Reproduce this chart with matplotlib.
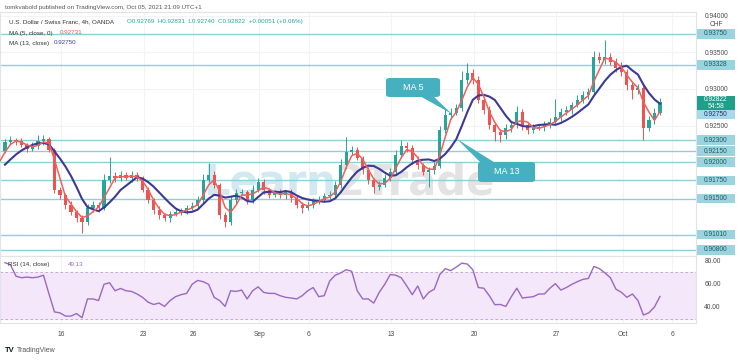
import numpy as np
import pandas as pd
import matplotlib
matplotlib.use("Agg")
import matplotlib.pyplot as plt
from matplotlib.patches import Rectangle, FancyBboxPatch, Polygon

plt.rcParams['font.family'] = ['Liberation Sans', 'DejaVu Sans']

W, H = 740, 361

pre_closes = [0.9180, 0.9182, 0.9185, 0.9188, 0.9198, 0.9215]
closes = [
    0.92275, 0.92302, 0.92289, 0.92234, 0.92179, 0.92220, 0.92289, 0.92316, 0.92166, 0.91619,
    0.91551, 0.91414, 0.91319, 0.91237, 0.91182, 0.91374, 0.91414, 0.91374, 0.91756, 0.91811,
    0.91783, 0.91824, 0.91783, 0.91824, 0.91783, 0.91619, 0.91483, 0.91346, 0.91278, 0.91237,
    0.91292, 0.91319, 0.91346, 0.91374, 0.91401, 0.91483, 0.91756, 0.91824, 0.91688, 0.91278,
    0.91182, 0.91483, 0.91578, 0.91592, 0.91483, 0.91619, 0.91729, 0.91619, 0.91551, 0.91578,
    0.91551, 0.91592, 0.91510, 0.91414, 0.91374, 0.91414, 0.91483, 0.91483, 0.91537, 0.91551,
    0.91688, 0.91961, 0.92138, 0.92166, 0.92056, 0.91892, 0.91756, 0.91660, 0.91688, 0.91783,
    0.91865, 0.92097, 0.92220, 0.92193, 0.92029, 0.91961, 0.91865, 0.91892, 0.91947, 0.92439,
    0.92644, 0.92671, 0.92739, 0.93122, 0.93217, 0.93122, 0.92849, 0.92712, 0.92507, 0.92412,
    0.92371, 0.92466, 0.92507, 0.92685, 0.92507, 0.92439, 0.92466, 0.92480, 0.92507, 0.92548,
    0.92616, 0.92685, 0.92712, 0.92780, 0.92849, 0.92917, 0.92958, 0.93436, 0.93395, 0.93436,
    0.93368, 0.93286, 0.93231, 0.93053, 0.92985, 0.93012, 0.92466, 0.92575, 0.92671, 0.92822,
]
hi_ext_pips = [
    4, 5, 3, 4, 3, 5, 8, 6, 3, 3,
    4, 3, 5, 3, 4, 6, 5, 4, 8, 26,
    5, 6, 4, 5, 4, 3, 4, 3, 5, 3,
    4, 5, 3, 4, 6, 5, 8, 16, 5, 3,
    4, 6, 5, 4, 3, 7, 5, 4, 3, 4,
    5, 3, 4, 3, 4, 5, 3, 6, 4, 5,
    6, 8, 20, 5, 4, 3, 4, 3, 5, 6,
    5, 7, 8, 5, 4, 6, 3, 4, 5, 6,
    8, 7, 6, 12, 14, 5, 6, 4, 5, 3,
    4, 5, 6, 8, 4, 3, 5, 4, 6, 5,
    25, 5, 6, 4, 7, 5, 6, 8, 7, 23,
    6, 5, 8, 4, 5, 6, 4, 5, 7, 6,
]
lo_ext_pips = [
    3, 4, 5, 3, 4, 3, 4, 5, 3, 4,
    5, 6, 4, 5, 15, 4, 5, 6, 3, 4,
    5, 4, 3, 5, 4, 3, 4, 5, 6, 4,
    5, 3, 4, 5, 3, 4, 5, 3, 4, 6,
    7, 4, 5, 3, 6, 4, 3, 5, 4, 3,
    4, 6, 5, 4, 7, 3, 4, 5, 3, 4,
    3, 4, 5, 4, 3, 5, 6, 8, 4, 3,
    4, 3, 4, 5, 6, 5, 4, 20, 5, 3,
    4, 5, 3, 4, 5, 6, 4, 5, 6, 13,
    10, 6, 5, 4, 7, 5, 4, 3, 5, 4,
    3, 5, 4, 6, 3, 4, 5, 3, 4, 5,
    4, 5, 6, 7, 12, 5, 16, 4, 5, 3,
]
rsi_vals = [
    78.5, 76.7, 66.8, 65.4, 66.0, 65.4, 66.0, 67.6, 51.3, 35.7,
    34.9, 32.1, 32.1, 34.3, 30.7, 47.0, 47.0, 45.6, 59.7, 61.1,
    54.1, 56.1, 54.1, 53.5, 51.3, 48.4, 44.2, 42.2, 43.4, 40.5,
    45.6, 49.0, 50.7, 51.8, 59.7, 63.1, 62.0, 59.7, 48.4, 45.6,
    40.5, 54.1, 53.5, 54.7, 47.0, 54.1, 57.5, 52.7, 51.8, 51.8,
    49.8, 48.4, 47.8, 47.0, 49.8, 54.1, 56.9, 49.0, 49.8, 62.6,
    67.6, 69.6, 72.4, 71.0, 54.1, 47.0, 47.0, 43.4, 52.7, 59.7,
    68.2, 67.6, 65.4, 58.3, 50.7, 58.3, 47.0, 52.7, 55.5, 68.2,
    73.3, 71.6, 74.7, 78.1, 77.3, 72.4, 56.9, 56.3, 49.8, 42.0,
    42.2, 40.5, 49.0, 56.3, 47.8, 48.4, 49.0, 51.3, 51.3, 56.3,
    60.3, 54.7, 56.9, 59.7, 62.0, 64.0, 64.8, 75.3, 73.3, 69.6,
    65.4, 55.5, 52.7, 48.4, 51.3, 45.6, 33.0, 35.0, 40.0, 49.13,
]
levels = [0.93750, 0.93328, 0.92300, 0.92150, 0.92000, 0.91750, 0.91500, 0.91010, 0.90800]
price_ticks = [0.92500, 0.93000, 0.93500, 0.94000]
rsi_ticks = [40, 60, 80]
tick_days = [0, 5, 8, 12, 15, 20, 25, 30, 34, 37]
tick_labels = ["16", "23", "26", "Sep", "6", "13", "20", "27", "Oct", "6"]
last_price = 0.92822
ma5_last = 0.92731
ma13_last = 0.92750
ohlc_text = "O0.92769  H0.92831  L0.92740  C0.92822  +0.00051 (+0.06%)"
countdown = "54:58"
rsi_last = 49.13

# ---------------- derived ----------------
bars_per_day = 3
start_day = -3.4
all_closes = pd.Series(pre_closes + closes)
npre = len(pre_closes)
pos_all = start_day + (np.arange(len(all_closes)) - npre) / bars_per_day
pos = pos_all[npre:]
c = np.array(closes)
o = all_closes.shift(1).values[npre:]
hi = np.maximum(o, c) + np.array(hi_ext_pips) * 1e-4
lo = np.minimum(o, c) - np.array(lo_ext_pips) * 1e-4
ma5 = all_closes.rolling(3).mean()
ma13 = all_closes.rolling(7).mean()

UP = "#26a69a"
DN = "#ef5350"
LVL = "#8fcfda"
GRID = "#f1f3f6"
TXT = "#4a4a4a"

def fx(x):
    return x / W

def fy(y):
    return 1 - y / H

fig = plt.figure(figsize=(W / 100, H / 100), dpi=100)
fig.patch.set_facecolor("white")

ax = fig.add_axes([0, fy(256), fx(696), (256 - 12) / H])
axr = fig.add_axes([0, fy(323), fx(696), (323 - 256) / H], sharex=ax)

xlim = (-3.7, 38.45)
ax.set_xlim(*xlim)
ax.set_ylim(0.90718, 0.94050)

for a in (ax, axr):
    for s in a.spines.values():
        s.set_color("#e0e3eb")
        s.set_linewidth(0.8)
    a.set_facecolor("white")
    for d in tick_days:
        a.axvline(d, color=GRID, lw=0.8, zorder=0)

for p in price_ticks:
    ax.axhline(p, color=GRID, lw=0.8, zorder=0)

# watermark
ax.text(0.483, 0.30, "Learn", transform=ax.transAxes, fontsize=30, fontweight="bold",
        color="#d3e8f0", ha="right", va="center", zorder=1, family="DejaVu Sans")
ax.text(0.483, 0.30, "2Trade", transform=ax.transAxes, fontsize=30, fontweight="bold",
        color="#e3e3e3", ha="left", va="center", zorder=1, family="DejaVu Sans")

# level lines
for lv in levels:
    ax.axhline(lv, color=LVL, lw=1.0, zorder=2)

# candles
colors = np.where(c >= o, UP, DN)
ax.vlines(pos, lo, hi, colors=colors, lw=0.7, zorder=3)
body_h = np.maximum(np.abs(c - o), 0.00003)
ax.bar(pos, body_h, bottom=np.minimum(o, c), width=0.19, color=colors, zorder=3, linewidth=0)

# MAs
ax.plot(pos_all, ma13, color="#3c3a96", lw=1.5, zorder=4)
ax.plot(pos_all, ma5, color="#f0605c", lw=1.1, zorder=5)

# price scale labels (plain)
ax.yaxis.tick_right()
ax.set_yticks(price_ticks)
ax.set_yticklabels([f"{p:.5f}" for p in price_ticks])
ax.tick_params(axis="y", length=0, pad=6, labelsize=4.8, labelcolor=TXT)
ax.tick_params(axis="x", length=0, labelbottom=False)
fig.text(fx(716), fy(24), "CHF", fontsize=4.8, color=TXT, ha="center", va="center")

def ypix(a, val):
    return a.transData.transform((0, val))[1]

def label_box(yd, text, bg, fg, h=9.5):
    rect = Rectangle((fx(697), (yd - h / 2) / H), fx(38), h / H, transform=fig.transFigure,
                     facecolor=bg, edgecolor="none", zorder=10)
    fig.add_artist(rect)
    fig.text(fx(716), yd / H, text, fontsize=4.8, color=fg, ha="center", va="center",
             zorder=11, linespacing=1.05)

for lv in levels:
    label_box(ypix(ax, lv), f"{lv:.5f}", "#9ad5df", "#1d5964")
label_box(ypix(ax, ma13_last) - 7, f"{ma13_last:.5f}", "#a9d8ea", "#24306e", h=9)
label_box(ypix(ax, last_price) - 1, f"{last_price:.5f}\n{countdown}", "#1f9e8a", "white", h=14)

# legend texts
fig.text(fx(5), fy(8), "tomkvabold published on TradingView.com, Oct 05, 2021 21:09 UTC+1",
         fontsize=4.5, color="#555555", va="center")
fig.text(fx(9), fy(22), "U.S. Dollar / Swiss Franc, 4h, OANDA", fontsize=4.5, color="#333333", va="center")
fig.text(fx(127), fy(22), ohlc_text, fontsize=4.5, color=UP, va="center")
fig.text(fx(9), fy(33), "MA (5, close, 0)", fontsize=4.5, color="#333333", va="center")
fig.text(fx(60), fy(33), f"{ma5_last:.5f}", fontsize=4.5, color=DN, va="center")
fig.text(fx(9), fy(43), "MA (13, close)", fontsize=4.5, color="#333333", va="center")
fig.text(fx(54), fy(43), f"{ma13_last:.5f}", fontsize=4.5, color="#3c3a96", va="center")

# callouts
CAL = "#45b1c0"
def callout(x0, y0, x1, y1, tail, text):
    tri = Polygon([(fx(px), fy(py)) for px, py in tail], closed=True, transform=fig.transFigure,
                  facecolor=CAL, edgecolor="none", zorder=12)
    fig.add_artist(tri)
    box = FancyBboxPatch((fx(x0), fy(y1)), fx(x1 - x0), (y1 - y0) / H,
                         boxstyle="round,pad=0,rounding_size=0.006", transform=fig.transFigure,
                         facecolor=CAL, edgecolor="none", zorder=12)
    fig.add_artist(box)
    fig.text(fx((x0 + x1) / 2), fy((y0 + y1) / 2), text, fontsize=6.5, color="white",
             ha="center", va="center", zorder=13)

callout(386, 78, 440, 97, [(418, 95), (432, 95), (452, 114)], "MA 5")
callout(478, 162, 535, 182, [(482, 164), (497, 164), (457, 139)], "MA 13")

# RSI pane
axr.set_ylim(26.1, 84.3)
axr.axhspan(30, 70, color="#f3e7f9", zorder=0)
axr.axhline(70, color="#b8a4c6", lw=0.6, ls=(0, (3, 3)), zorder=1)
axr.axhline(30, color="#b8a4c6", lw=0.6, ls=(0, (3, 3)), zorder=1)
axr.plot(pos, rsi_vals, color="#9a68c4", lw=1.0, zorder=3)
axr.yaxis.tick_right()
axr.set_yticks(rsi_ticks)
axr.set_yticklabels([f"{v:.2f}" for v in rsi_ticks])
axr.tick_params(axis="y", length=0, pad=6, labelsize=4.8, labelcolor=TXT)
axr.set_xticks(tick_days)
axr.set_xticklabels(tick_labels)
axr.tick_params(axis="x", length=0, pad=6, labelsize=4.8, labelcolor=TXT)
axr.text(0.011, 0.88, "RSI (14, close)", transform=axr.transAxes, fontsize=4.5, color="#333333", va="center")
axr.text(0.097, 0.88, f"{rsi_last:.2f}", transform=axr.transAxes, fontsize=4.5, color="#9a68c4", va="center")

# footer logo
fig.text(fx(5), fy(351), "TV", fontsize=5.5, fontweight="bold", color="#131722", va="center")
fig.text(fx(17), fy(351), "TradingView", fontsize=5, color="#555555", va="center")

fig.savefig("out.png", dpi=100, facecolor="white")
